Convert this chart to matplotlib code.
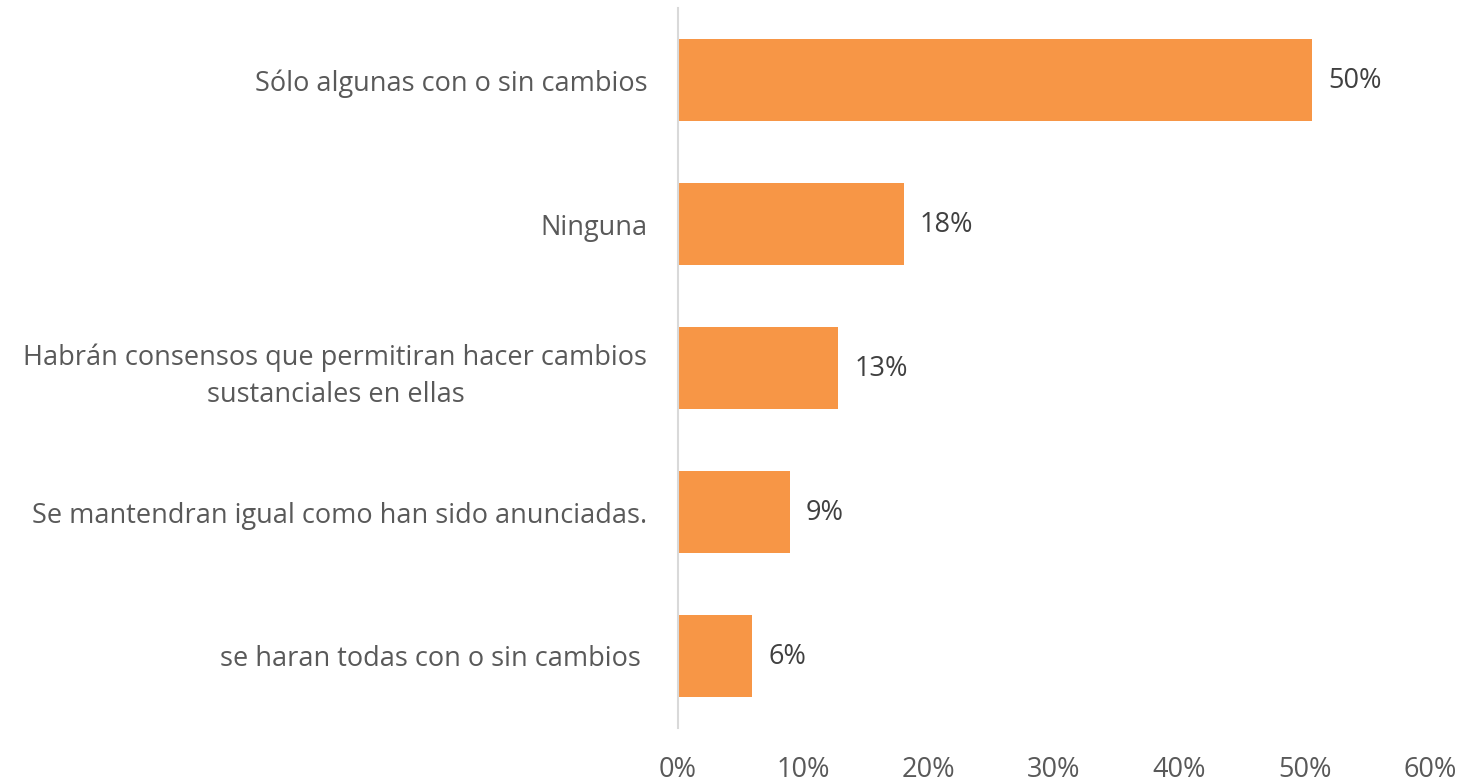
import matplotlib
matplotlib.use('Agg')
import matplotlib.pyplot as plt
from matplotlib.ticker import PercentFormatter

# Datos
categorias = [
    'Sólo algunas con o sin cambios',
    'Ninguna',
    'Habrán consensos que permitiran hacer cambios\nsustanciales en ellas',
    'Se mantendran igual como han sido anunciadas.',
    'se haran todas con o sin cambios ',
]
valores = [50.6, 18.0, 12.8, 8.9, 5.9]
etiquetas = ['50%', '18%', '13%', '9%', '6%']
ticks_x = [0, 10, 20, 30, 40, 50, 60]

plt.rcParams['font.family'] = ['Open Sans', 'DejaVu Sans']
tam = 19.5

fig = plt.figure(figsize=(14.65, 7.84), dpi=100)
ax = fig.add_axes([678 / 1465, 1 - 728 / 784, (1430 - 678) / 1465, 720 / 784])

pos = list(range(len(categorias)))
ax.barh(pos, valores, height=0.57, color='#F79646')
ax.set_ylim(len(categorias) - 0.5, -0.5)
ax.set_xlim(0, 60)

for p, v, t in zip(pos, valores, etiquetas):
    ax.text(v + 1.3, p + 0.01, t, va='center', ha='left', fontsize=tam, color='#404040')

ax.set_yticks(pos)
ax.set_yticklabels(categorias, fontsize=tam, color='#595959', multialignment='center',
                   linespacing=1.45)
ax.tick_params(axis='y', length=0, pad=22)

ax.set_xticks(ticks_x)
ax.xaxis.set_major_formatter(PercentFormatter(decimals=0))
ax.tick_params(axis='x', length=0, pad=20, labelsize=tam, labelcolor='#595959')

for s in ['top', 'right', 'bottom']:
    ax.spines[s].set_visible(False)
ax.spines['left'].set_color('#D9D9D9')
ax.spines['left'].set_linewidth(1.5)

fig.savefig('out.png', dpi=100)
